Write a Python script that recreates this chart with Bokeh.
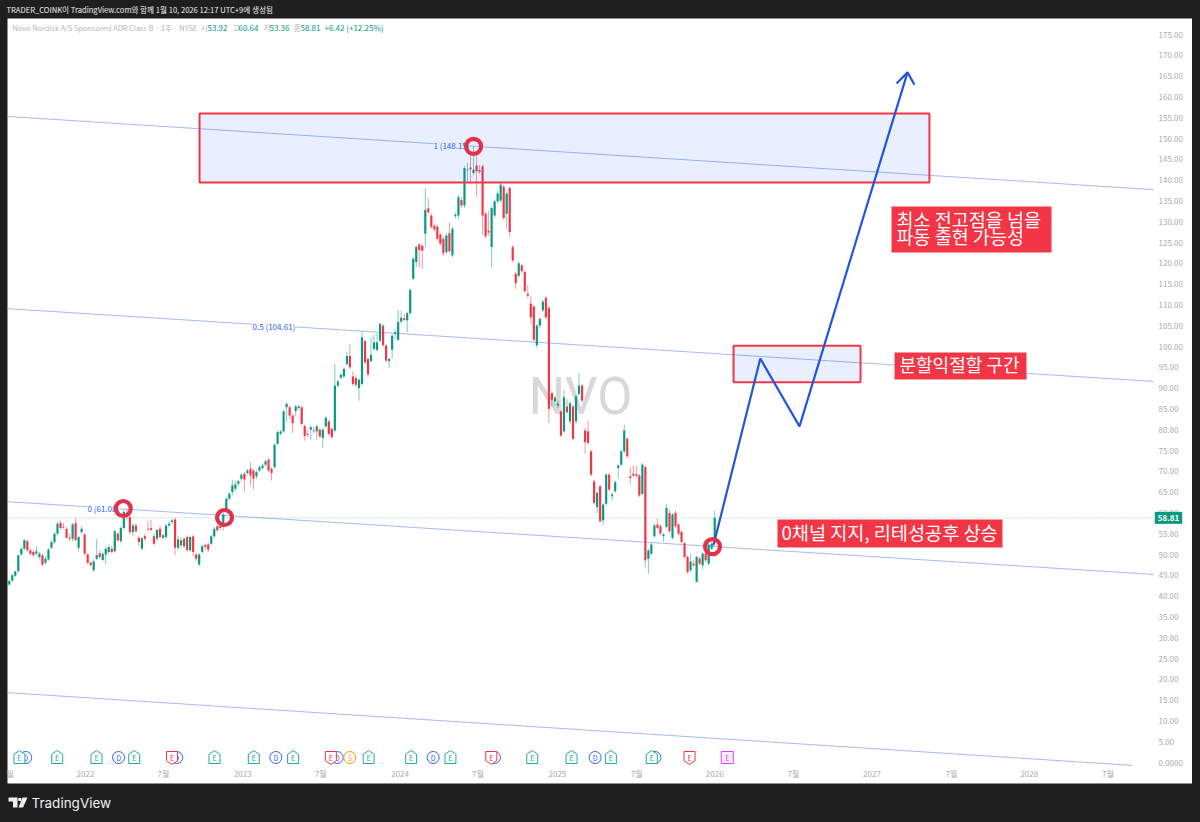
from bokeh.plotting import figure
from bokeh.models import (ColumnDataSource, FixedTicker, GlobalInlineStyleSheet, Label,
                          NumeralTickFormatter, PolyAnnotation)
from bokeh.core.properties import value
from bokeh.embed import file_html
from bokeh.resources import INLINE

# weekly candles, NVO (last one is the week of 2026-01)
opens = [42.8,43.7,44.9,46.0,50.0,51.4,53.2,51.0,50.6,50.2,
         49.4,49.8,48.0,48.8,51.6,53.0,55.0,57.6,56.7,56.1,
         54.0,53.8,57.5,51.6,55.4,54.8,50.0,48.0,46.2,49.0,
         50.3,48.7,50.0,50.6,51.4,50.8,55.0,53.2,56.4,59.6,
         59.0,55.4,57.0,54.0,51.4,54.4,56.2,56.3,54.4,53.8,
         56.2,54.0,54.2,57.0,57.8,58.4,51.6,53.4,52.0,54.2,
         51.0,54.3,50.0,47.6,50.6,52.2,52.4,52.6,54.4,56.8,
         57.0,56.6,60.6,63.4,65.0,65.8,67.0,68.2,69.4,69.6,
         70.6,70.2,68.8,70.2,70.8,71.6,72.8,70.6,71.0,76.6,
         79.0,79.6,85.4,85.4,83.4,84.5,85.2,85.4,80.9,79.0,
         80.0,79.8,79.6,80.0,78.0,80.8,82.0,80.2,79.8,90.6,
         92.5,92.8,95.8,97.7,92.8,92.4,90.0,91.0,101.3,97.0,
         96.5,99.4,99.2,101.4,105.0,100.2,96.5,99.2,103.0,101.6,
         106.0,106.8,106.3,108.0,116.3,120.3,124.5,124.2,127.1,133.2,
         131.5,129.0,128.8,126.9,125.9,122.7,127.2,121.9,131.3,131.5,
         135.2,133.9,142.3,143.0,141.7,143.5,142.4,143.3,131.9,127.8,
         123.9,131.5,134.9,135.1,138.4,131.9,138.1,123.9,117.5,117.0,
         119.5,117.9,112.6,110.3,109.6,100.3,105.0,108.7,111.7,109.3,
         88.8,86.8,85.8,84.4,79.6,85.6,82.0,85.6,82.0,88.6,
         90.6,79.8,79.6,74.8,67.6,61.4,66.4,58.2,62.2,69.2,
         64.0,65.2,70.8,71.6,74.8,77.8,68.8,69.4,69.3,69.0,
         64.6,71.0,49.0,50.2,54.4,57.2,56.8,54.4,56.6,60.0,
         54.0,60.0,57.2,55.4,52.7,49.4,46.2,47.8,43.4,49.0,
         47.4,50.2,47.8,51.4,53.92]
highs = [43.9,45.3,46.2,50.0,51.7,53.7,53.6,51.5,51.2,52.0,
         50.6,50.2,49.6,51.5,53.4,55.3,58.0,58.2,57.6,56.6,
         55.0,57.6,58.8,54.6,56.8,55.2,50.4,48.4,48.8,53.7,
         51.0,50.6,51.8,52.4,52.0,56.0,55.4,56.8,60.8,61.08,
         59.6,57.6,57.4,54.4,54.2,55.0,58.0,58.4,55.0,56.2,
         57.0,54.9,57.3,58.0,58.6,58.8,54.6,54.2,54.2,54.6,
         54.6,54.8,50.4,50.4,52.4,52.6,52.8,54.8,56.6,57.2,
         57.8,60.0,63.8,65.0,68.0,67.8,68.0,69.6,69.8,70.6,
         72.2,70.6,70.2,71.4,71.9,72.8,73.2,71.0,76.6,79.8,
         80.0,84.8,86.6,85.8,83.8,86.0,86.0,85.8,81.3,80.0,
         81.0,80.8,81.2,80.4,80.4,83.2,82.4,80.6,95.8,92.0,
         93.6,95.0,98.8,100.6,94.0,93.0,92.4,103.6,101.7,97.4,
         102.2,102.8,103.2,105.8,105.4,100.6,97.4,103.0,104.2,108.8,
         108.6,107.8,108.4,114.0,121.4,124.3,124.9,124.6,138.0,135.6,
         132.0,129.6,129.2,127.3,126.3,127.2,129.8,128.8,132.2,136.4,
         136.0,143.4,144.2,146.4,148.15,147.0,143.6,143.7,132.4,132.6,
         133.8,135.4,137.4,139.6,138.8,137.2,138.5,124.4,117.9,120.4,
         120.0,118.3,114.8,112.0,110.0,105.4,107.0,111.2,112.2,109.7,
         89.2,88.2,87.0,84.8,89.6,87.4,86.8,86.0,88.4,93.6,
         91.0,80.4,82.2,75.2,68.0,65.2,66.8,62.4,69.6,69.6,
         65.0,67.8,71.8,75.2,81.2,78.2,71.0,71.4,71.4,69.4,
         72.0,71.4,51.4,52.8,57.4,58.6,57.2,55.2,62.2,60.8,
         60.0,60.6,57.6,55.8,53.1,49.8,50.2,48.6,49.8,49.6,
         50.6,50.6,52.8,53.0,60.64]
lows = [42.5,43.4,44.6,45.7,49.6,51.0,50.7,49.8,49.5,49.8,
        48.8,47.2,47.6,48.5,51.2,52.6,54.6,56.0,56.2,53.8,
        53.2,53.2,53.2,50.8,55.0,49.8,47.6,47.0,45.8,48.6,
        49.0,48.4,47.6,50.2,50.2,50.4,53.0,52.8,56.0,58.2,
        54.8,54.4,55.2,52.0,51.0,53.2,55.6,55.8,52.2,53.2,
        53.8,53.6,53.8,56.6,57.2,49.8,51.0,51.4,51.6,50.6,
        50.6,49.6,48.4,47.2,50.2,51.2,50.6,52.2,54.0,55.4,
        56.0,55.8,60.2,63.0,64.2,65.2,66.4,67.6,65.0,69.2,
        66.6,65.6,68.2,69.8,70.4,71.2,69.8,67.8,70.6,76.2,
        78.6,79.2,81.8,82.6,79.2,83.2,84.8,81.0,77.3,78.2,
        77.6,79.2,77.6,78.0,75.6,80.4,78.6,77.8,79.4,90.2,
        92.1,92.4,95.4,94.6,90.6,90.2,87.0,90.6,95.8,92.6,
        96.1,99.0,98.8,101.0,99.9,96.2,94.9,97.2,101.8,101.2,
        105.6,106.0,103.4,107.6,116.0,119.0,119.0,118.6,123.8,131.8,
        128.3,127.6,125.4,124.2,121.8,122.2,122.4,121.4,130.8,130.6,
        133.4,133.4,139.6,139.6,141.2,136.0,141.4,126.8,126.0,126.6,
        119.0,131.0,134.4,134.6,130.4,128.2,126.4,120.2,113.8,116.6,
        117.6,112.9,111.6,105.4,101.2,99.6,104.4,108.3,106.6,81.6,
        85.6,85.8,85.2,78.2,79.2,83.8,81.2,77.4,81.4,88.2,
        86.6,74.2,76.4,68.8,62.0,60.0,57.6,57.2,61.8,65.2,
        63.0,64.8,68.2,71.2,74.4,73.2,67.0,68.6,68.4,63.8,
        64.2,47.0,45.4,49.8,54.0,56.0,54.6,53.0,56.2,55.2,
        53.6,56.4,54.6,52.6,49.0,45.4,45.8,47.0,43.4,47.4,
        46.4,48.2,47.4,51.0,53.36]
closes = [43.6,45.0,45.9,49.8,51.4,53.4,51.0,50.2,49.8,50.8,
          50.2,47.6,49.0,51.2,53.0,55.0,57.4,56.4,56.5,54.0,
          53.8,57.2,53.5,54.2,56.2,50.2,48.0,47.5,48.4,49.8,
          49.4,50.2,51.4,51.8,50.6,55.6,53.4,56.4,60.2,59.2,
          55.4,57.0,55.6,53.0,53.9,53.8,56.0,55.9,52.6,55.9,
          54.2,54.6,57.0,57.4,58.2,51.6,53.6,52.2,53.8,51.0,
          54.2,50.6,49.0,50.0,52.0,51.8,51.2,54.4,56.2,55.8,
          56.4,59.6,63.4,64.6,66.6,66.8,67.6,69.2,68.0,70.2,
          69.0,68.2,69.8,71.0,71.4,72.4,70.2,69.6,76.4,79.4,
          79.6,84.4,86.2,83.4,81.6,85.6,85.6,81.4,78.5,78.8,
          80.6,79.6,80.8,78.4,80.0,82.9,79.0,78.2,90.6,91.6,
          93.2,94.6,97.7,95.0,91.0,90.8,92.0,102.2,96.2,93.3,
          98.0,101.0,101.0,105.4,100.3,96.6,97.0,102.6,103.4,105.9,
          106.9,106.4,108.0,113.6,121.1,123.9,123.2,123.0,132.8,132.3,
          128.7,128.2,125.9,124.7,122.4,126.7,122.9,128.3,131.7,135.9,
          133.9,142.9,142.5,142.6,142.5,142.1,142.0,131.5,126.5,127.4,
          133.3,134.9,136.8,138.9,130.9,136.8,127.5,120.7,115.2,120.0,
          118.1,113.3,112.2,107.0,101.6,105.0,106.6,110.8,107.0,85.0,
          87.2,87.7,86.3,78.6,87.8,84.2,86.4,77.8,88.0,90.6,
          87.0,77.0,76.8,69.2,62.4,64.8,58.0,62.0,69.2,65.6,
          64.4,67.4,71.4,74.8,79.8,73.6,68.4,69.0,68.9,64.2,
          71.6,48.6,51.0,52.4,57.0,56.4,55.0,54.8,61.2,55.6,
          59.6,56.8,55.0,53.0,49.4,45.8,48.3,47.4,49.4,47.8,
          50.2,48.6,52.4,52.6,58.81]

# parallel channel, [price at left edge, price at right edge]
channel_levels = [[155.3, 137.7], [109.1, 91.6], [62.7, 45.2], [16.8, -0.7]]
channel_ends = [2028.79, 2028.79, 2028.79, 2028.656]
channel_labels = ["1 (148.15)", "0.5 (104.61)", "0 (61.08)"]
channel_label_x = [2024.212, 2023.062, 2022.013]
channel_label_y = [148.4, 104.7, 61.1]
channel_label_bg = ["#E9EEFC", "white", "white"]

ring_x = [2022.24, 2022.884, 2024.467, 2025.986]
ring_y = [61.06, 58.9, 148.1, 51.9]

zone_left = [2022.725, 2026.12]
zone_right = [2027.365, 2026.927]
zone_top = [156.0, 100.2]
zone_bottom = [139.4, 91.4]

path_x = [2025.992, 2026.29, 2026.539, 2027.226]
path_y = [52.2, 97.1, 80.8, 165.9]
head_x = [2027.156, 2027.226, 2027.27]
head_y = [163.2, 165.9, 162.9]

# earnings / dividend / split badges under the candles
event_x = [2021.62, 2021.58, 2021.82, 2022.07, 2022.21, 2022.31, 2022.58, 2022.55, 2022.82, 2023.07,
           2023.21, 2023.32, 2023.6, 2023.56, 2023.68, 2023.8, 2024.07, 2024.21, 2024.32, 2024.6,
           2024.58, 2024.84, 2025.09, 2025.24, 2025.34, 2025.62, 2025.6, 2025.84, 2026.08]
event_kind = ["D", "E", "E", "E", "D", "E", "D", "R", "E", "E",
              "D", "E", "D", "R", "S", "E", "E", "D", "E", "D",
              "R", "E", "E", "D", "E", "D", "E", "R", "P"]

year_ticks = [2022, 2023, 2024, 2025, 2026, 2027, 2028]
july_ticks = [2022.496, 2023.495, 2024.495, 2025.505, 2026.5, 2027.505, 2028.5]
first_tick = 2021.52

GREEN = "#089981"
RED = "#F23645"
BLUE = "#2962FF"
DARK = "#1E1E1E"
KR = "Noto Sans CJK KR"


def year_at(px):
    return 2022 + (px - 85) / 157.3


def price_at(py):
    return (762 - py) / 4.16


# the frame fills the page, because annotations and text get clipped to it;
# the dark surround is the frame background and the white panel sits on top
p = figure(width=1192, height=822, output_backend="svg", toolbar_location=None,
           x_range=(year_at(0), year_at(1192)), y_range=(price_at(822), price_at(0)),
           y_axis_location="right", min_border=0,
           background_fill_color=DARK, border_fill_color=DARK, outline_line_color=None)
p.stylesheets = [GlobalInlineStyleSheet(css="body { background: %s; }" % DARK)]
p.grid.visible = False

p.yaxis.ticker = FixedTicker(ticks=list(range(0, 180, 5)))
p.yaxis.formatter = NumeralTickFormatter(format="0.00")
p.yaxis.major_label_overrides = {0: "0.0000"}
p.xaxis.ticker = FixedTicker(ticks=[first_tick] + year_ticks + july_ticks)
tick_names = {y: str(y) for y in year_ticks}
tick_names.update({j: "7월" for j in july_ticks})
tick_names[first_tick] = "월"
p.xaxis.major_label_overrides = tick_names
p.xaxis.major_label_standoff = -55
p.yaxis.major_label_standoff = -34
for ax in (p.xaxis, p.yaxis):
    ax.axis_line_color = None
    ax.major_tick_line_color = None
    ax.minor_tick_line_color = None
    ax.major_tick_out = 0
    ax.major_label_text_color = "#ABABAB"
    ax.major_label_text_font_size = "8px"
    ax.major_label_text_font = KR

p.quad(left=[year_at(7)], right=[year_at(1192)], top=[price_at(18)], bottom=[price_at(783)],
       fill_color="white", line_color=None)

# watermark
p.text([year_at(580)], [price_at(396)], text=["NVO"], text_font=value("Roboto"), text_font_size="51px",
       text_color="#D8D8D8", text_align="center", text_baseline="middle")

p.multi_line([[year_at(7), e] for e in channel_ends], channel_levels, line_color="#A9B9F2", line_width=1)
p.line([year_at(7), year_at(1153)], [closes[-1], closes[-1]], line_color=GREEN, line_alpha=0.5,
       line_dash="1 2", line_width=1)

last_year = 2026.0
week = 7 / 365.25
n = len(closes)
xs = [last_year - (n - 1 - i) * week for i in range(n)]
colors = [GREEN if c >= o else RED for o, c in zip(opens, closes)]
source = ColumnDataSource(data=dict(x=xs, open=opens, high=highs, low=lows, close=closes, color=colors))
p.segment("x", "high", "x", "low", source=source, line_color="color", line_width=1, line_alpha=0.5)
p.vbar("x", week * 0.72, "open", "close", source=source, fill_color="color", line_color=None)

p.quad(left=zone_left, right=zone_right, top=zone_top, bottom=zone_bottom,
       fill_color=BLUE, fill_alpha=0.1, line_color=RED, line_width=2)

p.line(path_x, path_y, line_color="#2456DC", line_width=2.2, level="overlay")
p.line(head_x, head_y, line_color="#2456DC", line_width=2.2, level="overlay")

for t, x, y, bg in zip(channel_labels, channel_label_x, channel_label_y, channel_label_bg):
    p.add_layout(Label(x=x, y=y, text=t, text_font=KR, text_font_size="8px", text_color=BLUE,
                       text_baseline="middle", background_fill_color=bg))

p.scatter(ring_x, ring_y, marker="circle", size=15, fill_color=None, line_color="#E0314E",
          line_width=4.2, level="overlay")

# badges
badge_colors = {"E": "#22AB94", "R": RED, "D": BLUE, "S": "#FF9800", "P": "#E040FB"}
badge_letters = {"E": "E", "R": "E", "D": "D", "S": "S", "P": "E"}
bw = 5.5 / 157.3
bh = 6 / 4.16
by = price_at(757)
for x, kind in zip(event_x, event_kind):
    col = badge_colors[kind]
    if kind in ("D", "S"):
        p.scatter([x], [by], marker="circle", size=12, fill_color="white", line_color=col, line_width=1)
    elif kind == "P":
        p.scatter([x], [by], marker="square", size=12, fill_color="#FBEEFE", line_color=col, line_width=1)
    elif kind == "E":
        p.patch([x - bw, x, x + bw, x + bw, x - bw], [by + bh * 0.55, by + bh * 1.15, by + bh * 0.55, by - bh, by - bh],
                fill_color="white", line_color=col, line_width=1)
    else:
        p.patch([x - bw, x + bw, x + bw, x, x - bw], [by + bh, by + bh, by - bh * 0.55, by - bh * 1.15, by - bh * 0.55],
                fill_color="white", line_color=col, line_width=1)
    p.text([x], [by], text=[badge_letters[kind]], text_font=value(KR), text_font_size="7px", text_color=col,
           text_align="center", text_baseline="middle")

# red call-outs
callouts = [("최소 전고점을 넘을\n파동 출현 가능성", 891, 1051, 206, 252, 896, "18.5px"),
            ("분할익절할 구간", 894, 1026, 352, 379, 899, "18px"),
            ("0채널 지지, 리테성공후 상승", 777, 1002, 519, 547, 781, "18.6px")]
for t, x0, x1, y0, y1, tx, size in callouts:
    p.quad(left=[year_at(x0)], right=[year_at(x1)], top=[price_at(y0)], bottom=[price_at(y1)],
           fill_color="#F23645", line_color=None)
    rows = t.split("\n")
    for i, line in enumerate(rows):
        py = (y0 + y1) / 2 - 2 + (i - (len(rows) - 1) / 2) * 17
        p.text([year_at(tx)], [price_at(py)], text=[line], text_font=value(KR), text_font_size=size,
               text_color="white", text_baseline="middle")

# price tag on the axis
p.add_layout(Label(x=year_at(1168), y=closes[-1], text="58.81", text_font=KR, text_font_size="8px",
                   text_font_style="bold", text_color="white", text_align="center", text_baseline="middle",
                   background_fill_color=GREEN, padding=3))

# legend row
legend_bits = [("Novo Nordisk A/S Sponsored ADR Class B · 1주 · NYSE", 12, "#B4B4B4"), ("시", 200, "#B4B4B4"), ("53.92", 207, GREEN),
               ("고", 232, "#B4B4B4"), ("60.64", 238, GREEN), ("저", 263, "#B4B4B4"), ("53.36", 269, GREEN),
               ("종", 293, "#B4B4B4"), ("58.81", 300, GREEN), ("+6.42 (+12.25%)", 324, GREEN)]
for t, px, col in legend_bits:
    size = "7.4px" if px == 12 else "8px"
    p.add_layout(Label(x=year_at(px), y=price_at(27), text=t, text_font=KR, text_font_size=size,
                       text_color=col, text_baseline="middle"))

# header and footer on the dark frame
p.add_layout(Label(x=year_at(6), y=price_at(9), text="TRADER_COINK이 TradingView.com와 함께 1월 10, 2026 12:17 UTC+9에 생성됨",
                   text_font=KR, text_font_size="7.6px", text_color="#F0F0F0", text_baseline="middle"))
p.add_layout(Label(x=year_at(31), y=price_at(802), text="TradingView", text_font="Inter", text_font_size="13.5px",
                   text_color="#F0F0F0", text_baseline="middle"))
for logo_x, logo_y in [([8, 17, 17, 12.5, 12.5, 8], [797, 797, 807, 807, 801, 801]),
                       ([22, 27, 22.5, 18], [797, 797, 807, 807]),
                       ([17.8, 20.8, 20.8, 17.8], [797.5, 797.5, 800.5, 800.5])]:
    p.add_layout(PolyAnnotation(xs=[year_at(v) for v in logo_x], ys=[price_at(v) for v in logo_y],
                                fill_color="#F0F0F0", fill_alpha=1, line_color=None))

open("out.html", "w").write(file_html(p, INLINE))
